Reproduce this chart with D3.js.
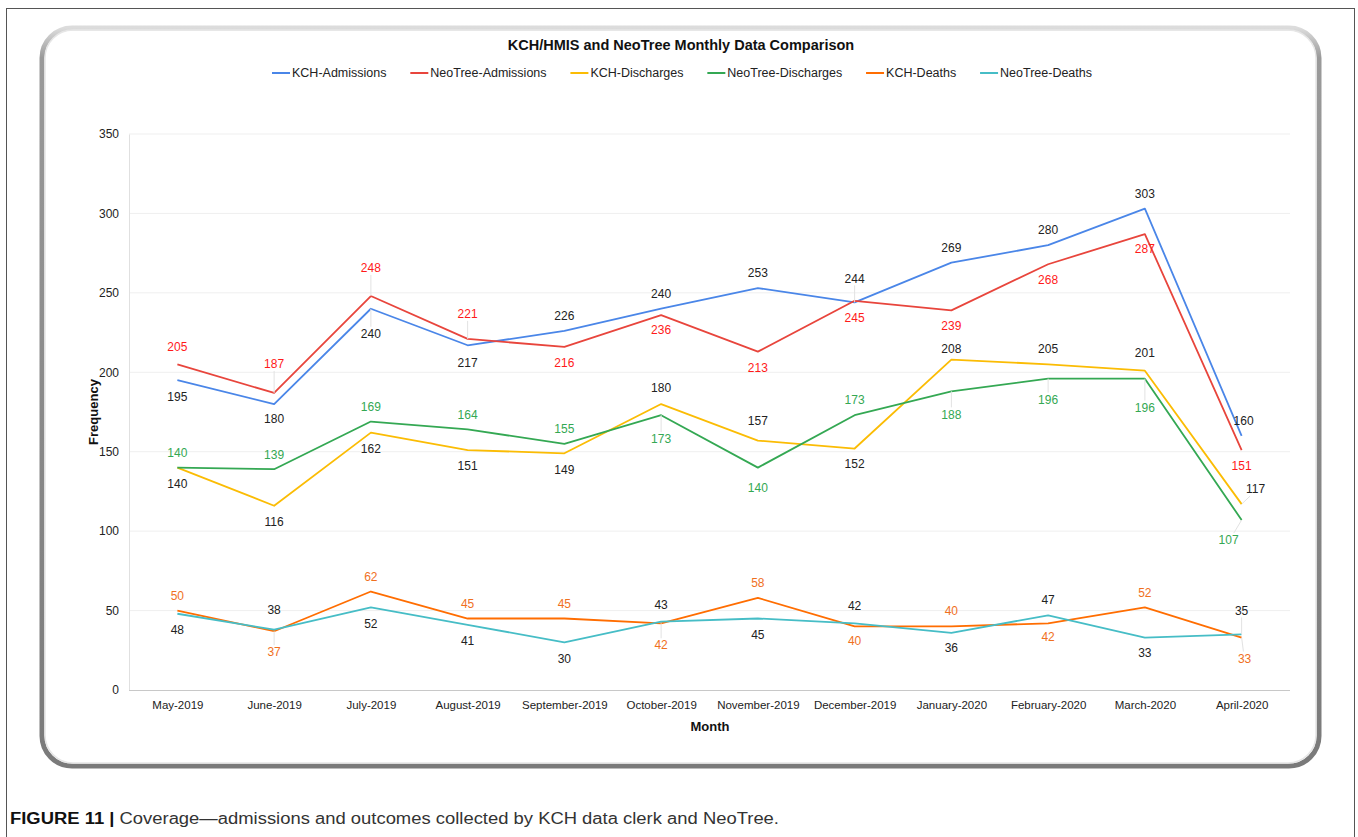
<!DOCTYPE html>
<html>
<head>
<meta charset="utf-8">
<script src="https://cdn.jsdelivr.net/npm/d3@7"></script>
<style>
  body { margin: 0; background: #fff; }
  svg { font-family: "Liberation Sans", Arial, sans-serif; }
</style>
</head>
<body>
<svg id="chart"></svg>
<script>
// data
const months = ["May-2019", "June-2019", "July-2019", "August-2019", "September-2019", "October-2019",
  "November-2019", "December-2019", "January-2020", "February-2020", "March-2020", "April-2020"];
const kchAdmissions = [195, 180, 240, 217, 226, 240, 253, 244, 269, 280, 303, 160];
const neoAdmissions = [205, 187, 248, 221, 216, 236, 213, 245, 239, 268, 287, 151];
const kchDischarges = [140, 116, 162, 151, 149, 180, 157, 152, 208, 205, 201, 117];
const neoDischarges = [140, 139, 169, 164, 155, 173, 140, 173, 188, 196, 196, 107];
const kchDeaths = [50, 37, 62, 45, 45, 42, 58, 40, 40, 42, 52, 33];
const neoDeaths = [48, 38, 52, 41, 30, 43, 45, 42, 36, 47, 33, 35];
const yTicks = [0, 50, 100, 150, 200, 250, 300, 350];

// label placement (pixels from the point), kept apart from the values
const dyKchAdm = [17, 15, 25, 18, -15, -15, -15, -24, -15, -15, -15, -15];
const dyNeoAdm = [-18, -29, -28, -25, 16, 15, 16, 17, 15, 16, 15, 16];
const dyKchDis = [16, 16, 16, 16, 16, -16, -20, 15, -11, -16, -18, -15];
const dyNeoDis = [-15, -14, -15, -15, -15, 24, 20, -15, 23, 21, 29, 20];
const dyKchDth = [-15, 21, -15, -15, -15, 22, -15, 14, -16, 14, -15, 21];
const dyNeoDth = [16, -20, 16, 16, 16, -17, 16, -17, 15, -16, 15, -24];
const dxLast = { kchAdm: 2, neoAdm: 0, kchDis: 14, neoDis: -13, kchDth: 3, neoDth: 0 };

const series = [
  { name: "KCH-Admissions", key: "kchAdm", values: kchAdmissions, color: "#4a86e8", text: "#222", dy: dyKchAdm },
  { name: "NeoTree-Admissions", key: "neoAdm", values: neoAdmissions, color: "#e8453c", text: "#ff1a1a", dy: dyNeoAdm },
  { name: "KCH-Discharges", key: "kchDis", values: kchDischarges, color: "#fbbc04", text: "#222", dy: dyKchDis },
  { name: "NeoTree-Discharges", key: "neoDis", values: neoDischarges, color: "#34a853", text: "#34a853", dy: dyNeoDis },
  { name: "KCH-Deaths", key: "kchDth", values: kchDeaths, color: "#ff6d01", text: "#f0701e", dy: dyKchDth },
  { name: "NeoTree-Deaths", key: "neoDth", values: neoDeaths, color: "#46bdc6", text: "#222", dy: dyNeoDth }
];

const width = 1358, height = 837;
const svg = d3.select("#chart").attr("width", width).attr("height", height);

// outer figure border
svg.append("rect")
    .attr("x", 6.5).attr("y", 8.5)
    .attr("width", 1348).attr("height", 840)
    .attr("fill", "none").attr("stroke", "#555").attr("stroke-width", 1);

// rounded chart frame
const defs = svg.append("defs");
const grad = defs.append("linearGradient")
    .attr("id", "frameGrad").attr("x1", 0).attr("y1", 0).attr("x2", 0).attr("y2", 1);
grad.append("stop").attr("offset", "0%").attr("stop-color", "#dcdcdc");
grad.append("stop").attr("offset", "4%").attr("stop-color", "#9a9a9a");
grad.append("stop").attr("offset", "100%").attr("stop-color", "#7a7a7a");

svg.append("rect")
    .attr("x", 42).attr("y", 28)
    .attr("width", 1277).attr("height", 738)
    .attr("rx", 30).attr("ry", 30)
    .attr("fill", "#fff").attr("stroke", "url(#frameGrad)").attr("stroke-width", 5);
svg.append("rect")
    .attr("x", 45).attr("y", 30)
    .attr("width", 1271).attr("height", 733)
    .attr("rx", 28).attr("ry", 28)
    .attr("fill", "none").attr("stroke", "#e6e6e6").attr("stroke-width", 1.5);

const x = d3.scalePoint()
    .domain(months)
    .range([129, 1290])
    .padding(0.5);

const y = d3.scaleLinear()
    .domain([0, 350])
    .range([690, 134]);

// grid
svg.append("g")
    .selectAll("line")
    .data(yTicks.filter(d => d > 0))
  .enter().append("line")
    .attr("x1", 129).attr("x2", 1290)
    .attr("y1", d => y(d)).attr("y2", d => y(d))
    .attr("stroke", "#efefef").attr("stroke-width", 1);

// axes
const yAxis = svg.append("g")
    .attr("transform", "translate(129,0)")
    .call(d3.axisLeft(y).tickValues(yTicks).tickSize(0).tickPadding(10));
yAxis.select(".domain").attr("stroke", "#e0e0e0");
yAxis.selectAll("text").attr("font-size", 12).attr("fill", "#222");

const xAxis = svg.append("g")
    .attr("transform", "translate(0,690)")
    .call(d3.axisBottom(x).tickSize(0).tickPadding(11));
xAxis.select(".domain").attr("stroke", "#c8c8c8").attr("d", "M129,0.5H1290");
xAxis.selectAll("text").attr("font-size", 11.5).attr("fill", "#222");

// axis titles
svg.append("text")
    .attr("x", 710).attr("y", 731)
    .attr("text-anchor", "middle")
    .attr("font-size", 13).attr("font-weight", "bold").attr("fill", "#111")
    .text("Month");
svg.append("text")
    .attr("transform", "translate(98,412) rotate(-90)")
    .attr("text-anchor", "middle")
    .attr("font-size", 13).attr("font-weight", "bold").attr("fill", "#111")
    .text("Frequency");

// title
svg.append("text")
    .attr("x", 681).attr("y", 50)
    .attr("text-anchor", "middle")
    .attr("font-size", 14.5).attr("font-weight", "bold").attr("fill", "#111")
    .text("KCH/HMIS and NeoTree Monthly Data Comparison");

// lines
const line = d3.line()
    .x((d, i) => x(months[i]))
    .y(d => y(d));

svg.append("g")
    .selectAll("path")
    .data(series)
  .enter().append("path")
    .attr("d", d => line(d.values))
    .attr("fill", "none")
    .attr("stroke", d => d.color)
    .attr("stroke-width", 1.8)
    .attr("stroke-linejoin", "round");

// data labels
series.forEach(s => {
  const g = svg.append("g");
  s.values.forEach((v, i) => {
    const px = x(months[i]), py = y(v);
    const dx = i === months.length - 1 ? dxLast[s.key] : 0;
    const dy = s.dy[i];
    if (Math.abs(dy) > 20 || Math.abs(dx) > 8) {
      const ty = py + dy + (dy > 0 ? -7 : 7);
      g.append("line")
          .attr("x1", px).attr("y1", py)
          .attr("x2", px + dx * 0.6).attr("y2", ty)
          .attr("stroke", "#e2e2e2").attr("stroke-width", 1);
    }
    g.append("text")
        .attr("x", px + dx)
        .attr("y", py + dy)
        .attr("dy", "0.35em")
        .attr("text-anchor", "middle")
        .attr("font-size", 12)
        .attr("fill", s.text)
        .text(v);
  });
});

// legend, spread over the same span as the reference
const legend = svg.append("g").attr("transform", "translate(0,73)");
const items = series.map(s => {
  const item = legend.append("g");
  item.append("line")
      .attr("x1", 0).attr("x2", 18).attr("y1", 0).attr("y2", 0)
      .attr("stroke", s.color).attr("stroke-width", 2);
  const t = item.append("text")
      .attr("x", 20).attr("dy", "0.35em")
      .attr("font-size", 12.5).attr("fill", "#222")
      .text(s.name);
  return { item, w: 20 + t.node().getComputedTextLength() };
});
const legendLeft = 272, legendRight = 1092;
const gap = (legendRight - legendLeft - d3.sum(items, d => d.w)) / (items.length - 1);
let cursor = legendLeft;
items.forEach(d => {
  d.item.attr("transform", `translate(${cursor},0)`);
  cursor += d.w + gap;
});

// caption
const cap = svg.append("text")
    .attr("x", 10).attr("y", 824)
    .attr("font-size", 16).attr("fill", "#333")
    .attr("textLength", 769).attr("lengthAdjust", "spacingAndGlyphs");
cap.append("tspan").attr("font-weight", "bold").attr("fill", "#111").text("FIGURE 11 | ");
cap.append("tspan").text("Coverage\u2014admissions and outcomes collected by KCH data clerk and NeoTree.");
</script>
</body>
</html>
